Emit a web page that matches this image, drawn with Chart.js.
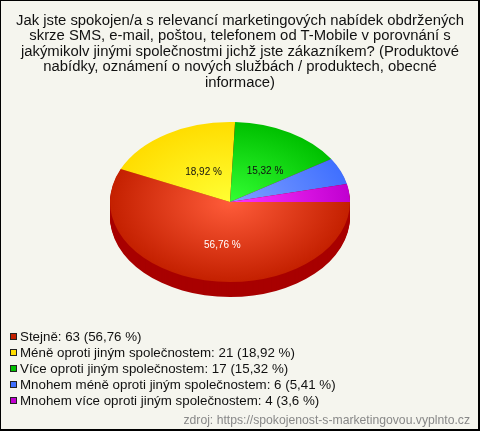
<!DOCTYPE html>
<html>
<head>
<meta charset="utf-8">
<script src="https://cdn.jsdelivr.net/npm/chart.js@4"></script>
<style>
  html, body { margin: 0; padding: 0; background: #f5f5ee; }
  #box { position: relative; width: 480px; height: 431px; box-sizing: border-box; border: solid #000; border-width: 1px 2px 2px 1px; overflow: hidden;
         font-family: "Liberation Sans", Arial, sans-serif; color: #111; }
  #chart { position: absolute; left: -1px; top: -1px; }
  #title { position: absolute; left: -1px; top: 11.5px; width: 480px; text-align: center; font-size: 14.85px; line-height: 15.5px; }
  #legend { position: absolute; left: 9px; top: 328px; font-size: 13.33px; line-height: 16px; }
  #legend div { white-space: nowrap; }
  #legend i { display: inline-block; width: 5px; height: 5px; border: 1px solid #222; margin-right: 3px; vertical-align: 1px; }
  #source { position: absolute; right: 8px; top: 412px; font-size: 12.2px; color: #888; }
</style>
</head>
<body>
<div id="box">
  <canvas id="chart" width="480" height="431"></canvas>
  <div id="title"></div>
  <div id="legend"></div>
  <div id="source"></div>
</div>
<script>
const titleLines = [
  "Jak jste spokojen/a s relevancí marketingových nabídek obdržených",
  "skrze SMS, e-mail, poštou, telefonem od T-Mobile v porovnání s",
  "jakýmikolv jinými společnostmi jichž jste zákazníkem? (Produktové",
  "nabídky, oznámení o nových službách / produktech, obecné",
  "informace)"
];
const sourceText = "zdroj: https://spokojenost-s-marketingovou.vyplnto.cz";

const categories = ["Stejně", "Méně oproti jiným společnostem", "Více oproti jiným společnostem", "Mnohem méně oproti jiným společnostem", "Mnohem více oproti jiným společnostem"];
const counts = [63, 21, 17, 6, 4];
const percentLabels = ["56,76", "18,92", "15,32", "5,41", "3,6"];

const edgeColors = ["#c42000", "#ffdd00", "#00c000", "#4070ff", "#c000d0"];
const centerColors = ["#ff5c3a", "#ffff33", "#33ff33", "#80a0ff", "#ff33ff"];
const labelColors = ["#fff", "#111", "#111", null, null]; // small slices have no label
const sideColor = "#a80000";

const squash = 80 / 120;  // pie is drawn as an ellipse
const depth = 15;

document.getElementById("title").innerHTML = titleLines.join("<br>");
document.getElementById("source").textContent = sourceText;
document.getElementById("legend").innerHTML = categories.map((c, i) =>
  `<div><i style="background:${edgeColors[i]}"></i>${c}: ${counts[i]} (${percentLabels[i]} %)</div>`).join("");

function sliceGradient(context) {
  const chart = context.chart;
  const area = chart.chartArea;
  if (!area) return edgeColors[context.dataIndex];
  const cx = (area.left + area.right) / 2;
  const cy = (area.top + area.bottom) / 2;
  const g = chart.ctx.createRadialGradient(cx, cy, 0, cx, cy, area.width / 2);
  g.addColorStop(0, centerColors[context.dataIndex]);
  g.addColorStop(1, edgeColors[context.dataIndex]);
  return g;
}

// tilts the pie and gives it a thick side
const tiltPlugin = {
  id: "tilt",
  beforeDatasetsDraw(chart) {
    const ctx = chart.ctx;
    const area = chart.chartArea;
    const cy = (area.top + area.bottom) / 2;
    ctx.save();
    ctx.translate(0, cy);
    ctx.scale(1, squash);
    ctx.translate(0, -cy);

    const arcs = chart.getDatasetMeta(0).data;
    for (let k = depth; k > 0; k--) {
      ctx.save();
      ctx.translate(0, k / squash);
      arcs.forEach(arc => {
        const saved = arc.options;
        arc.options = { backgroundColor: sideColor, borderColor: sideColor, borderWidth: 0, borderAlign: "center", borderRadius: 0, borderJoinStyle: "round", borderDash: [], borderDashOffset: 0, offset: 0, spacing: 0, circular: true };
        arc.draw(ctx);
        arc.options = saved;
      });
      ctx.restore();
    }
  },
  afterDatasetsDraw(chart) {
    const ctx = chart.ctx;
    ctx.restore();

    // percent labels, half way out on the ellipse
    const arcs = chart.getDatasetMeta(0).data;
    ctx.save();
    ctx.font = '10px "Liberation Sans", Arial, sans-serif';
    ctx.textAlign = "center";
    ctx.textBaseline = "middle";
    arcs.forEach((arc, i) => {
      if (!labelColors[i]) return;
      const mid = (arc.startAngle + arc.endAngle) / 2;
      const x = arc.x + Math.cos(mid) * arc.outerRadius * 0.5 + 5;
      const y = arc.y + Math.sin(mid) * arc.outerRadius * 0.5 * squash + 4;
      ctx.fillStyle = labelColors[i];
      ctx.fillText(percentLabels[i] + " %", x, y);
    });
    ctx.restore();
  }
};

new Chart(document.getElementById("chart").getContext("2d"), {
  type: "pie",
  data: {
    labels: categories,
    datasets: [{
      data: counts,
      backgroundColor: sliceGradient,
      borderWidth: 0,
      clip: false
    }]
  },
  options: {
    responsive: false,
    animation: false,
    events: [],
    rotation: 90,
    layout: { padding: { left: 110, right: 130, top: 82, bottom: 109 } },
    plugins: { legend: { display: false }, tooltip: { enabled: false }, title: { display: false } }
  },
  plugins: [tiltPlugin]
});
</script>
</body>
</html>
